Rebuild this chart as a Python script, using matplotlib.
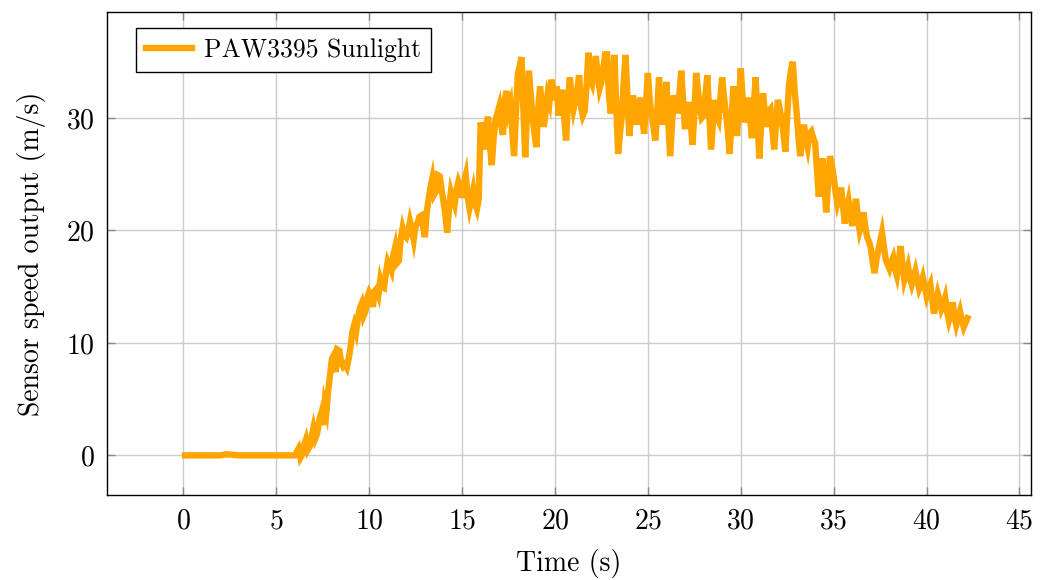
import matplotlib
matplotlib.use("Agg")
import matplotlib.pyplot as plt

plt.rcParams["font.family"] = ["cmr10", "DejaVu Serif"]
plt.rcParams["axes.formatter.use_mathtext"] = True
plt.rcParams["mathtext.fontset"] = "cm"

# sensor trace (time in s, speed in m/s)
time_s = [
    0.1, 1.0, 2.0, 2.3, 3.0, 4.0, 5.0, 5.8,
    6.0, 6.1, 6.2, 6.3, 6.4, 6.5, 6.6, 6.7, 6.8, 6.9,
    7.0, 7.1, 7.2, 7.3, 7.4, 7.5, 7.6, 7.7, 7.8, 7.9,
    8.0, 8.1, 8.2, 8.3, 8.4, 8.5, 8.6, 8.7, 8.8, 8.9,
    9.0, 9.1, 9.2, 9.3, 9.4, 9.5, 9.6, 9.7, 9.8, 9.9,
    10.0, 10.1, 10.2, 10.3, 10.4, 10.5, 10.6, 10.7, 10.8, 10.9,
    11.0, 11.1, 11.2, 11.3, 11.4, 11.5, 11.6, 11.7, 11.8, 11.9,
    12.0, 12.1, 12.2, 12.3, 12.4, 12.5, 12.6, 12.7, 12.8, 12.9,
    13.0, 13.1, 13.2, 13.3, 13.4, 13.5, 13.6, 13.7, 13.8, 13.9,
    14.0, 14.1, 14.2, 14.3, 14.4, 14.5, 14.6, 14.7, 14.8, 14.9,
    15.0, 15.1, 15.2, 15.3, 15.4, 15.5, 15.6, 15.7, 15.8, 15.9,
    16.0, 16.1, 16.2, 16.3, 16.4, 16.5, 16.6, 16.7, 16.8, 16.9,
    17.0, 17.1, 17.2, 17.3, 17.4, 17.5, 17.6, 17.7, 17.8, 17.9,
    18.0, 18.1, 18.2, 18.3, 18.4, 18.5, 18.6, 18.7, 18.8, 18.9,
    19.0, 19.1, 19.2, 19.3, 19.4, 19.5, 19.6, 19.7, 19.8, 19.9,
    20.0, 20.1, 20.2, 20.3, 20.4, 20.5, 20.6, 20.7, 20.8, 20.9,
    21.0, 21.1, 21.2, 21.3, 21.4, 21.5, 21.6, 21.7, 21.8, 21.9,
    22.0, 22.1, 22.2, 22.3, 22.4, 22.5, 22.6, 22.7, 22.8, 22.9,
    23.0, 23.1, 23.2, 23.3, 23.4, 23.5, 23.6, 23.7, 23.8, 23.9,
    24.0, 24.1, 24.2, 24.3, 24.4, 24.5, 24.6, 24.7, 24.8, 24.9,
    25.0, 25.1, 25.2, 25.3, 25.4, 25.5, 25.6, 25.7, 25.8, 25.9,
    26.0, 26.1, 26.2, 26.3, 26.4, 26.5, 26.6, 26.7, 26.8, 26.9,
    27.0, 27.1, 27.2, 27.3, 27.4, 27.5, 27.6, 27.7, 27.8, 27.9,
    28.0, 28.1, 28.2, 28.3, 28.4, 28.5, 28.6, 28.7, 28.8, 28.9,
    29.0, 29.1, 29.2, 29.3, 29.4, 29.5, 29.6, 29.7, 29.8, 29.9,
    30.0, 30.1, 30.2, 30.3, 30.4, 30.5, 30.6, 30.7, 30.8, 30.9,
    31.0, 31.1, 31.2, 31.3, 31.4, 31.5, 31.6, 31.7, 31.8, 31.9,
    32.0, 32.1, 32.2, 32.3, 32.4, 32.5, 32.6, 32.7, 32.8, 32.9,
    33.0, 33.1, 33.2, 33.3, 33.4, 33.5, 33.6, 33.7, 33.8, 33.9,
    34.0, 34.1, 34.2, 34.3, 34.4, 34.5, 34.6, 34.7, 34.8, 34.9,
    35.0, 35.1, 35.2, 35.3, 35.4, 35.5, 35.6, 35.7, 35.8, 35.9,
    36.0, 36.1, 36.2, 36.3, 36.4, 36.5, 36.6, 36.7, 36.8, 36.9,
    37.0, 37.1, 37.2, 37.3, 37.4, 37.5, 37.6, 37.7, 37.8, 37.9,
    38.0, 38.1, 38.2, 38.3, 38.4, 38.5, 38.6, 38.7, 38.8, 38.9,
    39.0, 39.1, 39.2, 39.3, 39.4, 39.5, 39.6, 39.7, 39.8, 39.9,
    40.0, 40.1, 40.2, 40.3, 40.4, 40.5, 40.6, 40.7, 40.8, 40.9,
    41.0, 41.1, 41.2, 41.3, 41.4, 41.5, 41.6, 41.7, 41.8, 41.9,
    42.0, 42.1, 42.2,
]
speed = [
    0.0, 0.0, 0.0, 0.1, 0.0, 0.0, 0.0, 0.0,
    0.0, 0.3, 0.6, -0.2, 0.1, 0.9, 1.4, 0.5, 0.8, 1.6,
    2.4, 1.5, 1.9, 3.0, 3.6, 2.7, 4.6, 3.9, 5.8, 7.2,
    8.6, 8.9, 7.4, 9.4, 9.3, 8.2, 7.9, 8.1, 7.8, 8.6,
    9.6, 11.0, 11.6, 11.0, 12.2, 13.1, 13.5, 12.4, 12.8, 14.0,
    14.5, 14.2, 13.2, 14.6, 14.8, 14.3, 15.6, 15.0, 14.9, 16.2,
    17.2, 16.8, 16.4, 17.8, 18.5, 17.1, 17.3, 19.2, 20.2, 19.6,
    19.4, 19.9, 20.8, 20.1, 19.2, 20.4, 20.6, 21.2, 21.3, 20.4,
    19.4, 21.6, 22.8, 23.8, 24.6, 23.2, 23.5, 24.9, 24.8, 23.6,
    22.6, 21.4, 19.8, 22.0, 23.4, 22.8, 22.3, 23.6, 24.3, 23.8,
    22.9, 24.2, 24.9, 23.0, 22.0, 22.8, 23.6, 22.4, 21.9, 22.8,
    29.6, 28.8, 27.2, 29.4, 30.1, 27.6, 25.8, 28.2, 29.8, 30.4,
    31.0, 29.4, 28.5, 31.6, 32.4, 30.6, 31.2, 28.8, 26.6, 30.4,
    33.8, 34.6, 35.4, 30.8, 26.5, 30.6, 34.2, 32.0, 30.0, 28.6,
    27.4, 30.8, 32.8, 31.0, 29.2, 30.6, 32.0, 31.4, 33.4, 32.6,
    31.6, 32.8, 30.2, 31.4, 32.5, 30.0, 28.0, 31.4, 33.6, 32.0,
    30.8, 31.6, 32.4, 33.8, 31.0, 30.2, 30.6, 32.8, 35.8, 33.4,
    33.0, 34.2, 35.5, 33.8, 32.6, 33.2, 34.4, 33.6, 35.9, 32.2,
    30.4, 33.4, 35.6, 31.0, 26.8, 28.6, 30.2, 33.2, 35.6, 32.0,
    28.4, 30.2, 32.0, 30.6, 29.4, 30.8, 31.8, 30.0, 28.6, 31.2,
    34.0, 31.6, 30.2, 29.2, 28.0, 30.4, 33.6, 31.2, 29.4, 30.6,
    33.2, 29.6, 26.6, 29.4, 32.0, 31.2, 30.4, 32.2, 34.2, 31.4,
    29.0, 30.6, 31.4, 29.8, 27.6, 30.2, 34.0, 32.4, 31.0, 30.0,
    30.2, 32.0, 33.8, 30.4, 27.2, 29.4, 31.6, 30.2, 29.8, 31.8,
    33.6, 31.8, 30.4, 29.0, 26.8, 29.6, 32.8, 30.2, 28.4, 31.2,
    34.4, 31.8, 29.6, 30.8, 31.8, 30.0, 28.2, 31.0, 33.6, 29.8,
    26.4, 29.6, 32.2, 30.4, 29.2, 30.6, 30.8, 29.0, 27.2, 29.6,
    31.6, 30.8, 29.8, 28.6, 27.0, 30.2, 33.0, 34.2, 35.0, 32.4,
    30.6, 28.4, 26.6, 28.0, 29.4, 28.2, 27.4, 28.6, 28.8, 28.2,
    27.8, 25.4, 23.0, 25.0, 26.4, 24.0, 21.6, 24.2, 26.6, 25.8,
    24.8, 23.4, 22.4, 23.0, 23.8, 22.2, 20.6, 21.8, 22.6, 21.4,
    20.4, 21.6, 22.8, 21.2, 20.0, 20.6, 21.6, 20.4, 19.4, 19.0,
    18.4, 17.2, 16.2, 17.4, 18.2, 19.0, 19.8, 18.6, 17.4, 17.0,
    16.6, 17.2, 17.6, 16.6, 16.0, 17.2, 18.6, 17.0, 15.6, 16.2,
    16.8, 15.8, 15.2, 15.8, 16.4, 15.6, 14.8, 15.2, 15.8, 15.0,
    14.2, 14.8, 15.2, 13.8, 12.6, 13.6, 14.4, 13.8, 13.0, 13.4,
    14.0, 12.8, 12.0, 12.6, 13.6, 12.4, 11.6, 12.2, 12.8, 12.0,
    11.4, 11.8, 12.2,
]
x_ticks = [0, 5, 10, 15, 20, 25, 30, 35, 40, 45]
y_ticks = [0, 10, 20, 30]

fig = plt.figure(figsize=(10.4, 5.8), dpi=100)
ax = fig.add_axes([0.103, 0.147, 0.888, 0.832])

ax.plot(time_s, speed, color="#ffa500", linewidth=4.6, solid_joinstyle="miter",
        label="PAW3395 Sunlight")

ax.set_xlim(-4.1, 45.6)
ax.set_ylim(-3.5, 39.4)
ax.set_xticks(x_ticks)
ax.set_yticks(y_ticks)
ax.grid(True, color="#cccccc", linewidth=1)
ax.set_axisbelow(True)
ax.tick_params(direction="in", top=True, right=True, length=6, width=1,
               labelsize=20, color="#888888")
ax.tick_params(axis="x", pad=10)
ax.tick_params(axis="y", pad=9)
for s in ax.spines.values():
    s.set_linewidth(1)

ax.set_xlabel("Time (s)", fontsize=20, labelpad=10)
ax.set_ylabel("Sensor speed output (m/s)", fontsize=20, labelpad=14)

leg = ax.legend(loc="upper left", fontsize=18.5, fancybox=False, framealpha=1,
                edgecolor="black", borderpad=0.4, handlelength=1.8,
                handletextpad=0.45, borderaxespad=0,
                bbox_to_anchor=(0.031, 0.967))
leg.get_frame().set_linewidth(1)

fig.savefig("out.png", dpi=100)
